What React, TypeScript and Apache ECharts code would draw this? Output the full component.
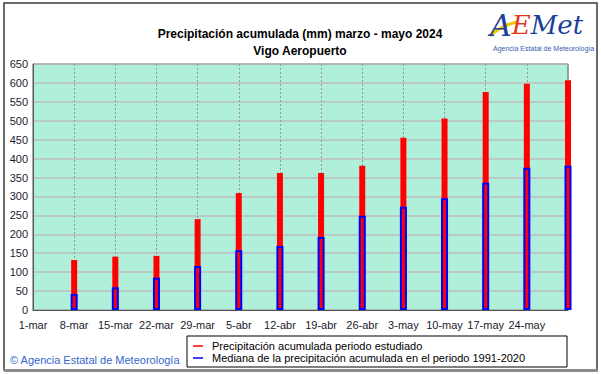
import React, { useEffect, useRef } from "react";
import * as echarts from "echarts";

const dates = ["1-mar", "8-mar", "15-mar", "22-mar", "29-mar", "5-abr", "12-abr", "19-abr", "26-abr", "3-may", "10-may", "17-may", "24-may", "31-may"];
const observed = [null, 132, 141, 143, 240, 309, 362, 362, 381, 455, 506, 576, 598, 607];
const median = [null, 42, 60, 85, 116, 158, 169, 193, 249, 273, 295, 336, 376, 381];
const yTicks = { min: 0, max: 650, interval: 50 };
const observedName = "Precipitación acumulada periodo estudiado";
const medianName = "Mediana de la precipitación acumulada en el periodo 1991-2020";

export default function App() {
  const ref = useRef<HTMLDivElement>(null);
  useEffect(() => {
    if (!ref.current) return;
    const chart = echarts.init(ref.current, null, { renderer: "svg" });
    const font = "Arial, 'Liberation Sans', sans-serif";
    const xAxisBase = {
      type: "category",
      data: dates,
      boundaryGap: false,
      axisTick: { show: false },
      axisLine: { show: true, lineStyle: { color: "#555", width: 1 } },
    };
    chart.setOption({
      animation: false,
      backgroundColor: "#ffffff",
      textStyle: { fontFamily: font },
      title: {
        text: "Precipitación acumulada (mm) marzo - mayo 2024\nVigo Aeropuerto",
        left: 295,
        top: 20,
        textAlign: "center",
        textStyle: { fontSize: 12, fontWeight: "bold", color: "#000", lineHeight: 17, fontFamily: font },
      },
      grid: {
        left: 33,
        top: 64,
        right: 33,
        bottom: 64,
        show: true,
        backgroundColor: "#b0f0da",
        borderColor: "#5a5a5a",
        borderWidth: 1,
      },
      legend: {
        orient: "vertical",
        left: 193,
        top: 340,
        padding: 0,
        icon: "rect",
        itemWidth: 10,
        itemHeight: 1.5,
        itemGap: 0,
        textStyle: { fontSize: 11, color: "#000", lineHeight: 12, padding: [0, 0, 0, 4], fontFamily: font },
        data: [
          { name: observedName, itemStyle: { color: "#ff0000", borderWidth: 0 } },
          { name: medianName, itemStyle: { color: "#0000ff", borderWidth: 0 } },
        ],
      },
      xAxis: [
        {
          ...xAxisBase,
          axisLabel: {
            color: "#1a1a2e",
            fontSize: 11,
            margin: 9,
            fontFamily: font,
            interval: (i: number) => i < dates.length - 1,
          },
          splitLine: { show: true, interval: 0, lineStyle: { color: "#999", type: [2, 2], width: 1 } },
        },
        { ...xAxisBase, show: false },
      ],
      yAxis: {
        type: "value",
        min: yTicks.min,
        max: yTicks.max,
        interval: yTicks.interval,
        axisLine: { show: true, lineStyle: { color: "#555" } },
        axisTick: { show: false },
        axisLabel: { color: "#1a1a2e", fontSize: 11, margin: 5, fontFamily: font },
        splitLine: { show: true, lineStyle: { color: "#bcbcbc", width: 1.5 } },
      },
      series: [
        {
          name: observedName,
          type: "bar",
          xAxisIndex: 0,
          data: observed,
          barWidth: 6,
          clip: false,
          itemStyle: { color: "#ff0000" },
          z: 2,
        },
        {
          name: medianName,
          type: "bar",
          xAxisIndex: 1,
          data: median,
          barWidth: 7,
          clip: false,
          itemStyle: { color: "rgba(0,0,0,0)", borderColor: "#0000ff", borderWidth: 2 },
          z: 3,
        },
      ],
      graphic: [
        {
          type: "rect",
          z: -10,
          shape: { x: 4, y: 3, width: 593, height: 367 },
          style: { fill: "#fff", stroke: "#3a3a3a", lineWidth: 1.5 },
        },
        {
          type: "line",
          z: -9,
          shape: { x1: 4, y1: 370.5, x2: 598, y2: 370.5 },
          style: { stroke: "#8c8c8c", lineWidth: 3 },
        },
        {
          type: "rect",
          z: -5,
          shape: { x: 187, y: 336, width: 380, height: 31 },
          style: { fill: "#fff", stroke: "#000", lineWidth: 1 },
        },
        {
          type: "text",
          left: 10,
          top: 354,
          style: { text: "© Agencia Estatal de Meteorología", fill: "#3366cc", font: `11px ${font}` },
        },
        {
          type: "bezierCurve",
          shape: { x1: 490, y1: 36, x2: 518, y2: 22, cpx1: 498, cpy1: 28, cpx2: 510, cpy2: 23 },
          style: { stroke: "#f5c400", lineWidth: 3, fill: null },
          z: 5,
        },
        {
          type: "text",
          left: 490,
          top: 10,
          z: 6,
          style: {
            text: "{a|A}{e|E}{m|Met}",
            rich: {
              a: { fill: "#1c3f9c", font: `italic 30px 'DejaVu Serif', serif` },
              e: { fill: "#e2381c", font: `italic 26px 'DejaVu Serif', serif` },
              m: { fill: "#1c3f9c", font: `italic 26px 'DejaVu Serif', serif` },
            },
          },
        },
        {
          type: "text",
          left: 493,
          top: 45,
          z: 6,
          style: { text: "Agencia Estatal de Meteorología", fill: "#3a5ab0", font: `7px ${font}` },
        },
      ],
    });
    return () => chart.dispose();
  }, []);
  return <div ref={ref} style={{ position: "fixed", left: 0, top: 0, width: 601, height: 374 }} />;
}
